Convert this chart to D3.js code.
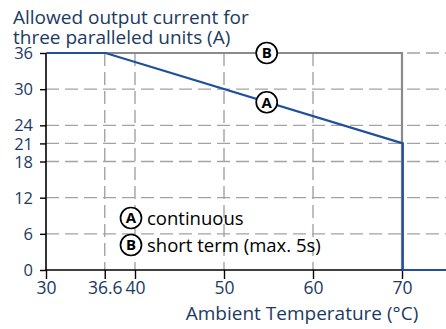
<!DOCTYPE html>
<html>
<head>
<meta charset="utf-8">
<script src="https://cdn.jsdelivr.net/npm/d3@7"></script>
<style>
  html, body { margin: 0; padding: 0; background: #fff; }
  svg { display: block; font-family: "Open Sans", "Noto Sans", sans-serif; }
</style>
</head>
<body>
<svg id="chart" width="446" height="329"></svg>
<script>
// Derating curves for three paralleled units
const xTicks = [30, 36.6, 40, 50, 60, 70];
const yTicks = [0, 6, 12, 18, 21, 24, 30, 36];
// (A) continuous: temperature (°C) and current (A)
const contTemp = [30, 36.6, 70, 70, 75];
const contCurrent = [36, 36, 21, 0, 0];
// (B) short term (max. 5s)
const shortTemp = [30, 70, 70];
const shortCurrent = [36, 36, 0];
const titleLines = ["Allowed output current for", "three paralleled units (A)"];
const xTitle = "Ambient Temperature (°C)";
const legendKeys = ["A", "B"];
const legendTexts = ["continuous", "short term (max. 5s)"];

const navy = "#1c3a63";
const blue = "#1f4f9e";
const grey = "#8a8a8a";

const svg = d3.select("#chart");
const x = d3.scaleLinear().domain([30, 75]).range([46, 446.5]);
const y = d3.scaleLinear().domain([0, 36]).range([270, 53]);

// dashed grid
const grid = svg.append("g").attr("stroke", "#a3a3a3").attr("stroke-width", 1.4)
  .attr("stroke-dasharray", "13,6").attr("fill", "none");
grid.selectAll("line.h").data(yTicks.filter(d => d > 0)).join("line")
  .attr("x1", x(30)).attr("x2", 446).attr("y1", d => y(d)).attr("y2", d => y(d));
grid.selectAll("line.v").data(xTicks.filter(d => d > 30 && d < 70)).join("line")
  .attr("x1", d => x(d)).attr("x2", d => x(d)).attr("y1", y(36)).attr("y2", y(0));

const line = d3.line().x(d => x(d[0])).y(d => y(d[1]));

// (B) short term
svg.append("path")
  .datum(shortTemp.map((t, i) => [t, shortCurrent[i]]))
  .attr("d", line).attr("fill", "none").attr("stroke", grey).attr("stroke-width", 2.2);

// axes
const yAxis = d3.axisLeft(y).tickValues(yTicks).tickSize(6).tickPadding(7).tickFormat(d3.format("d"));
const gy = svg.append("g").attr("transform", `translate(${x(30)},0)`).call(yAxis);
const xAxis = d3.axisBottom(x).tickValues(xTicks).tickSize(9).tickPadding(3)
  .tickFormat(d => d === 36.6 ? "36.6" : d3.format("d")(d));
const gx = svg.append("g").attr("transform", `translate(0,${y(0)})`).call(xAxis);
[gx, gy].forEach(g => {
  g.select(".domain").remove();
  g.selectAll(".tick line").attr("stroke", "#000").attr("stroke-width", 1.4);
  g.selectAll(".tick text").attr("fill", navy).attr("font-size", 17.5)
    .attr("font-family", "'Open Sans', sans-serif");
});
gy.selectAll(".tick text").attr("font-size", 16.5).attr("dy", "0.34em");
svg.append("line").attr("x1", x(30)).attr("x2", x(30)).attr("y1", y(36)).attr("y2", y(0))
  .attr("stroke", "#000").attr("stroke-width", 1.6);
svg.append("line").attr("x1", x(30)).attr("x2", x(70)).attr("y1", y(0)).attr("y2", y(0))
  .attr("stroke", "#000").attr("stroke-width", 1.6);

// (A) continuous
svg.append("path")
  .datum(contTemp.map((t, i) => [t, contCurrent[i]]))
  .attr("d", line).attr("fill", "none").attr("stroke", blue).attr("stroke-width", 2.2)
  .attr("transform", "translate(0.8,0)");

// circled key letter
function badge(cx, cy, key) {
  const g = svg.append("g").attr("transform", `translate(${cx},${cy})`);
  g.append("circle").attr("r", 10.5).attr("fill", "#fff").attr("stroke", "#000").attr("stroke-width", 1.7);
  g.append("text").text(key).attr("text-anchor", "middle").attr("dy", "0.36em")
    .attr("font-size", 15).attr("font-weight", "bold").attr("fill", "#000");
}
badge(x(54.8), y(36), "B");
badge(x(54.8), y(36 - 15 * (54.8 - 36.6) / (70 - 36.6)), "A");

// legend
legendKeys.forEach((k, i) => {
  const cy = 218 + i * 27;
  badge(131, cy, k);
  svg.append("text").text(legendTexts[i]).attr("x", 147).attr("y", cy + 6.5)
    .attr("font-size", 18.5).attr("fill", "#000");
});

// titles
svg.append("text").attr("fill", navy).attr("font-size", 19)
  .selectAll("tspan").data(titleLines).join("tspan")
  .attr("x", 13).attr("y", (d, i) => 24 + i * 19.5).text(d => d);
svg.append("text").text(xTitle).attr("x", 302).attr("y", 320)
  .attr("text-anchor", "middle").attr("fill", navy).attr("font-size", 19);
</script>
</body>
</html>
